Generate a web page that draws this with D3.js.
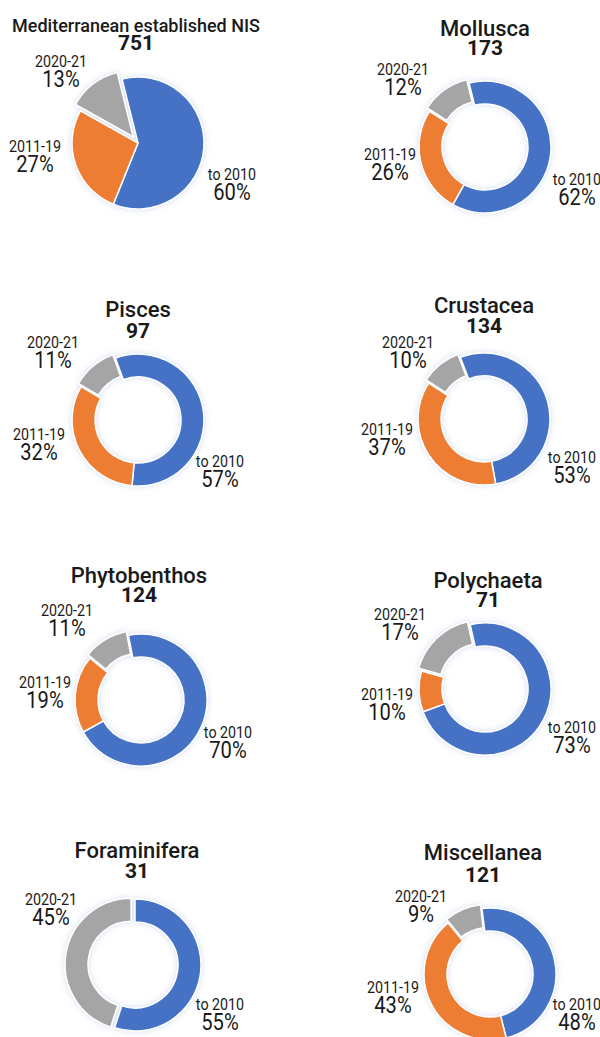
<!DOCTYPE html>
<html>
<head>
<meta charset="utf-8">
<script src="https://cdn.jsdelivr.net/npm/d3@7/dist/d3.min.js"></script>
<style>
  body { margin: 0; background: #fff; }
  svg { display: block; }
  text { font-family: Roboto, "Noto Sans", sans-serif; fill: #1a1a1a; }
</style>
</head>
<body>
<svg id="chart" width="600" height="1037"></svg>
<script>
// Chart data
var titles = ["Mediterranean established NIS", "Mollusca", "Pisces", "Crustacea",
              "Phytobenthos", "Polychaeta", "Foraminifera", "Miscellanea"];
var totals = [751, 173, 97, 134, 124, 71, 31, 121];
var periods = ["to 2010", "2011-19", "2020-21"];
var shareTo2010 = [60, 62, 57, 53, 70, 73, 55, 48];
var share2011_19 = [27, 26, 32, 37, 19, 10, 0, 43];
var share2020_21 = [13, 12, 11, 10, 11, 17, 45, 9];

// Layout of the collage (centre, rotation, title and label anchors)
var layout = [
  {cx: 138, cy: 143, rot: -14, pie: true,  tx: 136, ty: 32,  ny: 50,  tsize: 18, lab: [[232, 180], [35, 152], [61, 67]]},
  {cx: 485, cy: 147, rot: -14, pie: false, tx: 485, ty: 36,  ny: 55,  tsize: 22, lab: [[577, 185], [390, 160], [403, 75]]},
  {cx: 138, cy: 420, rot: -20, pie: false, tx: 138, ty: 317, ny: 338, tsize: 22, lab: [[220, 467], [39, 440], [53, 348]]},
  {cx: 484, cy: 419, rot: -21, pie: false, tx: 484, ty: 313, ny: 333, tsize: 22, lab: [[572, 463], [387, 435], [408, 348]]},
  {cx: 141, cy: 700, rot: -11, pie: false, tx: 139, ty: 583, ny: 602, tsize: 22, lab: [[228, 738], [45, 688], [67, 616]]},
  {cx: 485, cy: 689, rot: -13, pie: false, tx: 488, ty: 588, ny: 607, tsize: 22, lab: [[572, 733], [387, 700], [400, 620]]},
  {cx: 135, cy: 965, rot: 0,   pie: false, tx: 137, ty: 858, ny: 878, tsize: 22, lab: [[220, 1010], [0, 0], [51, 905]]},
  {cx: 490, cy: 974, rot: -7,  pie: false, tx: 483, ty: 860, ny: 882, tsize: 22, lab: [[577, 1010], [393, 993], [421, 902]]}
];

var svg = d3.select("#chart"),
  outerR = 66,
  innerR = 43,
  color = d3.scaleOrdinal().domain(periods).range(["#4472c4", "#ed7d31", "#a5a5a5"]);

// soft glow under the rings
var defs = svg.append("defs");
var glow = defs.append("filter").attr("id", "glow")
  .attr("x", "-30%").attr("y", "-30%").attr("width", "160%").attr("height", "160%");
glow.append("feDropShadow")
  .attr("dx", 0).attr("dy", 0).attr("stdDeviation", 3)
  .attr("flood-color", "#9fb6e0").attr("flood-opacity", 0.45);

titles.forEach(function (title, i) {
  var L = layout[i];
  var values = [shareTo2010[i], share2011_19[i], share2020_21[i]];
  var rows = periods.map(function (p, k) { return {period: p, value: values[k], k: k}; });

  var rot = L.rot * Math.PI / 180;
  var pie = d3.pie().sort(null).value(d => d.value)
    .startAngle(rot).endAngle(rot + 2 * Math.PI);
  var arc = d3.arc().outerRadius(outerR).innerRadius(L.pie ? 0 : innerR);

  var g = svg.append("g").attr("transform", "translate(" + L.cx + "," + L.cy + ")");
  var explode = L.pie ? 8 : 4;

  g.append("g").attr("filter", "url(#glow)")
    .selectAll("path")
    .data(pie(rows).filter(d => d.data.value > 0))
    .join("path")
    .attr("d", arc)
    .attr("fill", d => color(d.data.period))
    .attr("stroke", "#fff")
    .attr("stroke-width", 1.5)
    .attr("transform", function (d) {
      if (d.data.k !== 2) return null;
      var a = (d.startAngle + d.endAngle) / 2;
      return "translate(" + (Math.sin(a) * explode) + "," + (-Math.cos(a) * explode) + ")";
    });

  // title and total, one text block
  var head = svg.append("text")
    .attr("text-anchor", "middle");
  head.append("tspan")
    .attr("x", L.tx).attr("y", L.ty)
    .attr("font-size", L.tsize)
    .attr("font-weight", 500)
    .text(title);
  head.append("tspan")
    .attr("x", L.tx).attr("y", L.ny)
    .attr("font-size", 21)
    .attr("font-weight", 700)
    .text(totals[i]);

  // slice labels (condensed look)
  rows.forEach(function (r) {
    if (r.value <= 0) return;
    var p = L.lab[r.k];
    var t = svg.append("text")
      .attr("transform", "translate(" + p[0] + "," + p[1] + ") scale(0.84,1)")
      .attr("text-anchor", "middle")
      .attr("fill", "#2a2a2a");
    t.append("tspan")
      .attr("x", 0).attr("y", 0)
      .attr("font-size", 17)
      .text(r.period);
    t.append("tspan")
      .attr("x", 0).attr("y", 20)
      .attr("font-size", 24)
      .text(r.value + "%");
  });
});
</script>
</body>
</html>
